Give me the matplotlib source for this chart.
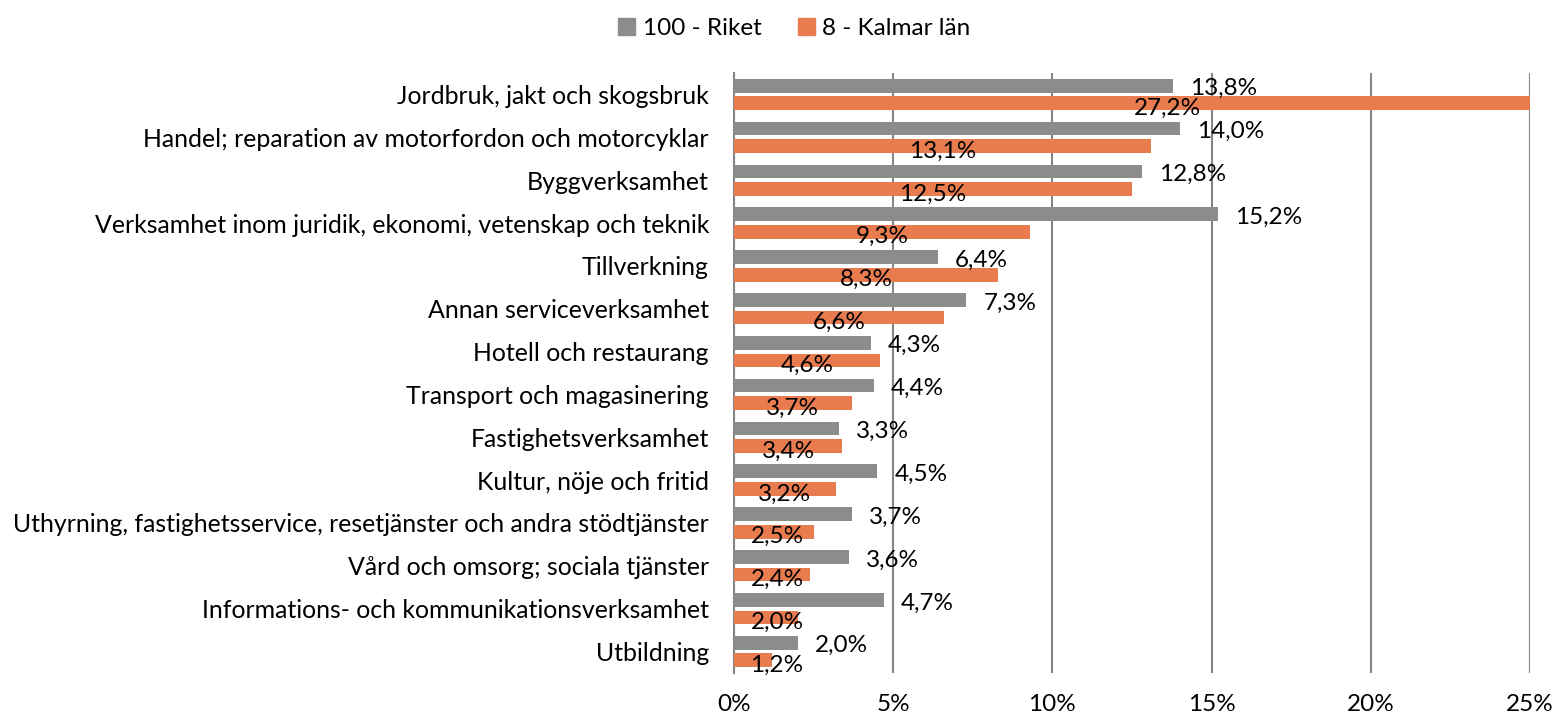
import matplotlib
matplotlib.use("Agg")
import matplotlib.pyplot as plt
from matplotlib.patches import Patch
import numpy as np

categories = [
    "Jordbruk, jakt och skogsbruk",
    "Handel; reparation av motorfordon och motorcyklar",
    "Byggverksamhet",
    "Verksamhet inom juridik, ekonomi, vetenskap och teknik",
    "Tillverkning",
    "Annan serviceverksamhet",
    "Hotell och restaurang",
    "Transport och magasinering",
    "Fastighetsverksamhet",
    "Kultur, nöje och fritid",
    "Uthyrning, fastighetsservice, resetjänster och andra stödtjänster",
    "Vård och omsorg; sociala tjänster",
    "Informations- och kommunikationsverksamhet",
    "Utbildning",
]
riket = [13.8, 14.0, 12.8, 15.2, 6.4, 7.3, 4.3, 4.4, 3.3, 4.5, 3.7, 3.6, 4.7, 2.0]
kalmar = [27.2, 13.1, 12.5, 9.3, 8.3, 6.6, 4.6, 3.7, 3.4, 3.2, 2.5, 2.4, 2.0, 1.2]
series_names = ["100 - Riket", "8 - Kalmar län"]
xticks = [0, 5, 10, 15, 20, 25]

gray = "#8a8d8a"
orange = "#e87c4f"
fs = 17.5
plt.rcParams['font.family'] = ['Lato', 'DejaVu Sans']

fig = plt.figure(figsize=(15.67, 7.18), dpi=100)
ax = fig.add_axes([0.4684, 0.0627, 0.9764 - 0.4684, 0.8983 - 0.0627])

y = np.arange(len(categories))
h = 0.32
off = 0.205
ax.barh(y - off, riket, height=h, color=gray, zorder=3)
ax.barh(y + off, kalmar, height=h, color=orange, zorder=3)

for yi, v in zip(y, riket):
    ax.annotate(f"{v:.1f}%".replace(".", ","), (v, yi - off), xytext=(17, -3),
                textcoords="offset pixels", ha="left", va="center",
                fontsize=fs, color="black", zorder=5)
for yi, v in zip(y, kalmar):
    ax.annotate(f"{v:.1f}%".replace(".", ","), (max(v / 2, 1.35), yi + off),
                xytext=(0, -5), textcoords="offset pixels", ha="center",
                va="center", fontsize=fs, color="black", zorder=5)

ax.set_xlim(0, 25)
ax.set_ylim(len(categories) - 0.5, -0.5)
ax.set_xticks(xticks)
ax.set_xticklabels([f"{t}%" for t in xticks])
ax.set_yticks(y)
ax.set_yticklabels(categories)
ax.tick_params(axis="both", length=0, labelsize=fs)
ax.tick_params(axis="y", pad=18, labelsize=17.9)
ax.tick_params(axis="x", pad=15)
ax.grid(axis="x", color="#868686", linewidth=1.5, zorder=0)
for s in ["top", "right", "bottom"]:
    ax.spines[s].set_visible(False)
ax.spines["left"].set_color("#868686")
ax.spines["left"].set_linewidth(1.5)

handles = [Patch(color=gray), Patch(color=orange)]
fig.legend(handles, series_names, loc="upper center", bbox_to_anchor=(0.507, 1.005),
           ncol=2, frameon=False, fontsize=fs, handlelength=0.7, handleheight=0.7,
           handletextpad=0.3, columnspacing=1.5)

fig.savefig("out.png", dpi=100)
